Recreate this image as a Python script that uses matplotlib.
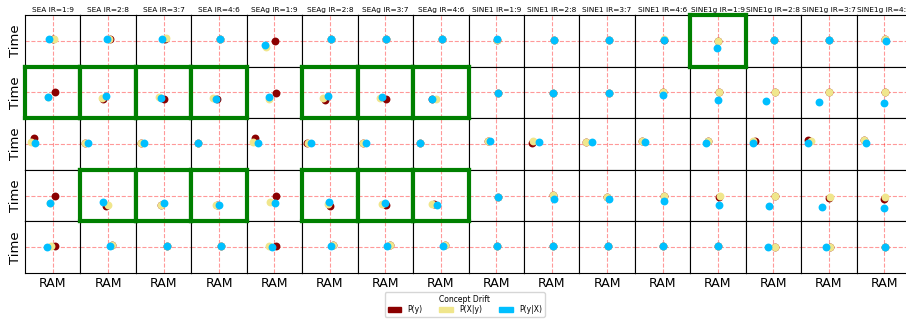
import numpy as np
import matplotlib as mpl
mpl.use("Agg")
import matplotlib.pyplot as plt
from matplotlib.patches import Patch

streams = ["SEA", "SEAg", "SINE1", "SINE1g"]
ratios = ["1:9", "2:8", "3:7", "4:6"]
titles = [f"{s} IR={r}" for s in streams for r in ratios]

drift_labels = ["P(y)", "P(X|y)", "P(y|X)"]
drift_colors = ["darkred", "khaki", "deepskyblue"]

# relative RAM / Time (1.0 = no drift baseline), rows x datasets
ram_py = [
    [1.02, 1.05, 1.05, 1.05, 1.02, 1.04, 1.01, 1.04, 1.04, 1.07, 1.07, 1.04, 1.00, 1.03, 1.00, 1.02],
    [1.07, 0.82, 1.00, 0.92, 1.04, 0.81, 1.04, 0.70, 1.05, 1.06, 1.07, 1.03, 1.02, 1.04, 1.02, 1.02],
    [0.31, 0.15, 0.17, 0.24, 0.30, 0.18, 0.19, 0.24, 0.71, 0.30, 0.25, 0.27, 0.64, 0.32, 0.26, 0.27],
    [1.07, 0.94, 0.92, 0.92, 1.06, 1.00, 1.01, 0.75, 1.06, 1.05, 1.00, 1.06, 1.05, 1.04, 1.00, 1.00],
    [1.10, 1.13, 1.12, 1.08, 1.06, 1.12, 1.16, 1.15, 1.02, 1.06, 1.04, 1.01, 1.01, 1.05, 1.05, 1.02],
]
time_py = [
    [1.06, 1.06, 1.08, 1.06, 1.00, 1.06, 1.06, 1.06, 1.04, 1.04, 1.04, 1.05, 1.00, 1.04, 1.04, 1.08],
    [1.00, 0.73, 0.74, 0.76, 0.99, 0.72, 0.74, 0.74, 0.99, 0.99, 0.99, 1.00, 1.00, 1.00, 1.00, 1.00],
    [1.22, 1.05, 1.05, 1.05, 1.22, 1.05, 1.05, 1.05, 1.13, 1.05, 1.09, 1.13, 1.13, 1.12, 1.14, 1.14],
    [1.00, 0.58, 0.64, 0.65, 1.00, 0.60, 0.62, 0.68, 0.96, 1.03, 0.94, 1.00, 0.94, 1.00, 0.90, 0.87],
    [1.04, 1.10, 1.06, 1.06, 1.03, 1.08, 1.09, 1.08, 1.04, 1.03, 1.03, 1.03, 1.03, 1.00, 1.01, 1.00],
]
ram_pxy = [
    [1.04, 1.03, 1.09, 1.05, 0.69, 1.04, 1.01, 1.04, 1.04, 1.07, 1.07, 1.04, 1.00, 1.03, 1.00, 1.02],
    [0.83, 0.78, 0.83, 0.79, 0.82, 0.76, 0.79, 0.84, 1.05, 1.06, 1.07, 1.03, 1.02, 1.04, 1.02, 1.02],
    [0.23, 0.18, 0.19, 0.24, 0.21, 0.20, 0.19, 0.24, 0.71, 0.33, 0.25, 0.27, 0.64, 0.26, 0.35, 0.27],
    [0.89, 0.99, 0.90, 0.88, 0.84, 0.92, 0.89, 0.70, 1.06, 1.05, 1.00, 1.06, 1.07, 1.04, 1.05, 1.04],
    [0.92, 1.13, 1.12, 1.08, 0.82, 1.12, 1.16, 1.15, 1.02, 1.06, 1.04, 1.01, 1.01, 1.05, 1.05, 1.02],
]
time_pxy = [
    [1.06, 1.06, 1.10, 1.06, 0.77, 1.06, 1.06, 1.06, 1.04, 1.04, 1.04, 1.06, 1.00, 1.04, 1.04, 1.08],
    [0.81, 0.80, 0.82, 0.78, 0.73, 0.78, 0.80, 0.74, 0.99, 0.99, 0.99, 1.00, 1.00, 1.00, 1.00, 1.00],
    [1.09, 1.05, 1.05, 1.05, 1.09, 1.05, 1.05, 1.05, 1.13, 1.13, 1.09, 1.13, 1.13, 1.13, 1.13, 1.14],
    [0.71, 0.62, 0.62, 0.63, 0.75, 0.69, 0.69, 0.69, 0.96, 1.03, 0.94, 1.00, 1.00, 1.00, 0.94, 0.96],
    [1.04, 1.10, 1.06, 1.06, 1.03, 1.08, 1.09, 1.08, 1.04, 1.03, 1.03, 1.03, 1.03, 1.00, 1.01, 1.00],
]
ram_pyx = [
    [0.85, 0.96, 0.95, 1.05, 0.66, 1.04, 1.01, 1.04, 1.04, 1.07, 1.07, 1.04, 0.96, 1.03, 1.00, 1.05],
    [0.83, 0.94, 0.92, 0.90, 0.80, 0.92, 0.87, 0.68, 1.05, 1.06, 1.07, 1.03, 0.99, 0.72, 0.66, 1.00],
    [0.37, 0.29, 0.31, 0.24, 0.40, 0.33, 0.30, 0.24, 0.77, 0.54, 0.47, 0.37, 0.57, 0.25, 0.25, 0.33],
    [0.89, 0.81, 1.01, 0.99, 1.01, 0.98, 1.00, 0.85, 1.06, 1.08, 1.07, 1.04, 1.02, 0.83, 0.77, 1.00],
    [0.80, 1.08, 1.12, 1.08, 0.90, 1.05, 1.06, 1.08, 1.02, 1.06, 1.04, 1.01, 1.01, 0.81, 0.89, 1.02],
]
time_pyx = [
    [1.06, 1.06, 1.06, 1.06, 0.85, 1.06, 1.06, 1.06, 1.06, 1.04, 1.04, 1.04, 0.73, 1.04, 1.04, 1.00],
    [0.81, 0.86, 0.80, 0.76, 0.83, 0.85, 0.82, 0.73, 0.99, 0.99, 0.99, 0.91, 0.72, 0.68, 0.62, 0.60],
    [1.05, 1.05, 1.05, 1.05, 1.05, 1.05, 1.05, 1.05, 1.12, 1.09, 1.09, 1.09, 1.05, 1.05, 1.05, 1.05],
    [0.71, 0.75, 0.71, 0.65, 0.71, 0.76, 0.71, 0.65, 0.96, 0.86, 0.86, 0.81, 0.63, 0.58, 0.54, 0.51],
    [1.00, 1.04, 1.06, 1.06, 1.00, 1.04, 1.04, 1.04, 1.04, 1.03, 1.03, 1.03, 1.03, 1.00, 1.00, 1.00],
]

# cells framed in green
highlight = [(0, 12)] + [(1, c) for c in (0, 1, 2, 3, 5, 6, 7)] + [(3, c) for c in (1, 2, 3, 5, 6, 7)]

series = [(ram_py, time_py), (ram_pxy, time_pxy), (ram_pyx, time_pyx)]

fig, axes = plt.subplots(5, 16, figsize=(9.06, 3.2), dpi=100)
fig.subplots_adjust(left=25 / 906, right=912 / 906, top=1 - 15 / 320,
                    bottom=1 - 273 / 320, wspace=0, hspace=0)

for r in range(5):
    for c in range(16):
        ax = axes[r, c]
        ax.axhline(1.0, color="red", alpha=0.4, ls="--", lw=0.8, zorder=1)
        ax.axvline(1.0, color="red", alpha=0.4, ls="--", lw=0.8, zorder=1)
        for (xs, ys), col in zip(series, drift_colors):
            ax.scatter(xs[r][c], ys[r][c], s=32, color=col, linewidths=0, zorder=3)
        ax.set_xlim(0, 2)
        ax.set_ylim(0, 2)
        ax.set_xticks([])
        ax.set_yticks([])
        for sp in ax.spines.values():
            sp.set_linewidth(0.8)
        if r == 0:
            ax.set_title(titles[c], fontsize=5.3, pad=2)
        if c == 0:
            ax.set_ylabel("Time", fontsize=9.5, labelpad=2)
        if r == 4:
            ax.set_xlabel("RAM", fontsize=9, labelpad=3)
        if (r, c) in highlight:
            ax.set_zorder(2)
            for sp in ax.spines.values():
                sp.set_color("green")
                sp.set_linewidth(3)

handles = [Patch(color=col, label=lab) for col, lab in zip(drift_colors, drift_labels)]
fig.legend(handles=handles, title="Concept Drift", loc="upper center",
           bbox_to_anchor=(0.513, 0.099), ncol=3, fontsize=5.5, title_fontsize=5.5,
           handlelength=1.8, handleheight=0.7, handletextpad=0.8, columnspacing=2.2,
           borderpad=0.35, labelspacing=0.2)

fig.savefig("out.png", dpi=100)
